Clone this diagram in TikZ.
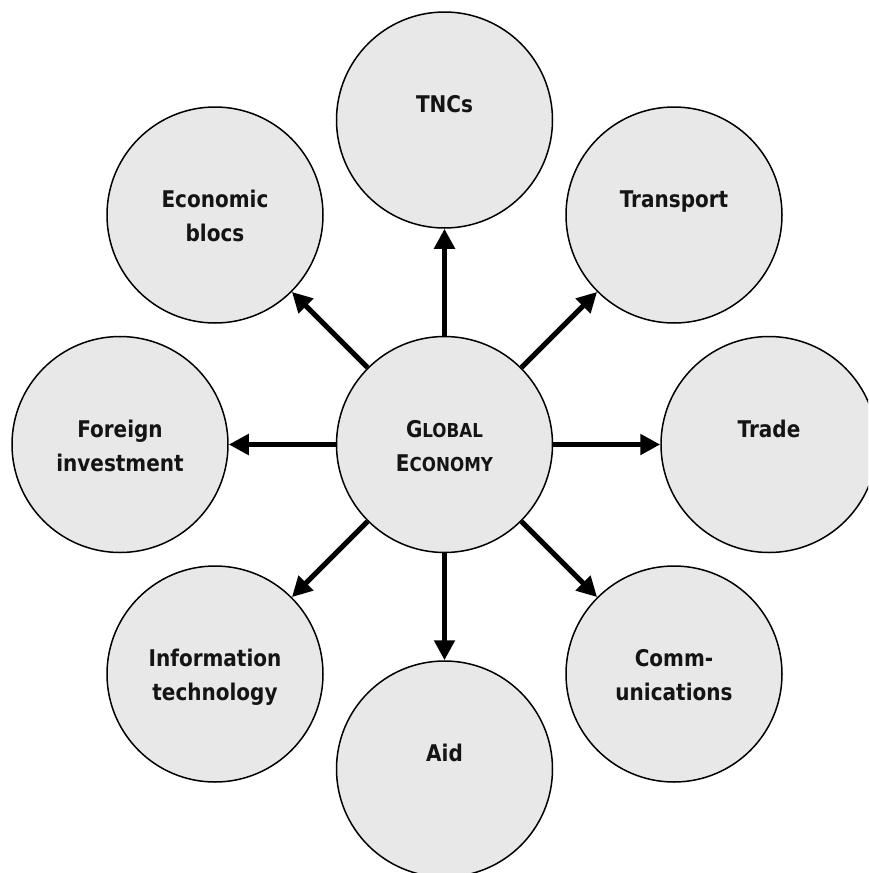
\documentclass[tikz,border=0pt]{standalone}
\usepackage{fontspec}
\newfontfamily\labfont{DejaVu Sans}[FakeStretch=0.87]
\usetikzlibrary{arrows.meta}
\definecolor{bubblegray}{RGB}{232,232,232}
\definecolor{inkblack}{RGB}{20,20,20}
\newcommand{\smallcapsfake}[1]{{\fontsize{9.6}{17}\selectfont #1}}
\newcommand{\topstrut}{\rule{0pt}{15pt}}
\begin{document}
\begin{tikzpicture}[x=0.5pt,y=-0.5pt,
  bubble/.style={circle, draw=black, line width=0.75pt, fill=bubblegray,
    minimum size=108pt, inner sep=0pt, align=center, text=inkblack,
    font=\labfont\bfseries\fontsize{11.5}{17}\selectfont},
  link/.style={line width=2.6pt, -{Triangle[length=10pt,width=10pt]}}]
\useasboundingbox (0,0) rectangle (868,873);
\clip (0,0) rectangle (868,873);

\node[bubble] (glob) at (444.5,444.5) {\topstrut G\smallcapsfake{LOBAL}\\E\smallcapsfake{CONOMY}\strut};
\node[bubble] (tnc)  at (444.5,120)   {\topstrut TNCs\\\strut};
\node[bubble] (tran) at (674,215)     {\topstrut Transport\\\strut};
\node[bubble] (trad) at (769,444.5)   {\topstrut Trade\\\strut};
\node[bubble] (comm) at (674,674)     {\topstrut Comm-\\unications\strut};
\node[bubble] (aid)  at (444.5,769)   {\topstrut Aid\\\strut};
\node[bubble] (info) at (215,674)     {\topstrut Information\\technology\strut};
\node[bubble] (fore) at (120,444.5)   {\topstrut Foreign\\investment\strut};
\node[bubble] (econ) at (215,215)     {\topstrut Economic\\blocs\strut};

\foreach \t in {tnc,tran,trad,comm,aid,info,fore,econ}
  \draw[link] (glob) -- (\t);
\end{tikzpicture}
\end{document}
